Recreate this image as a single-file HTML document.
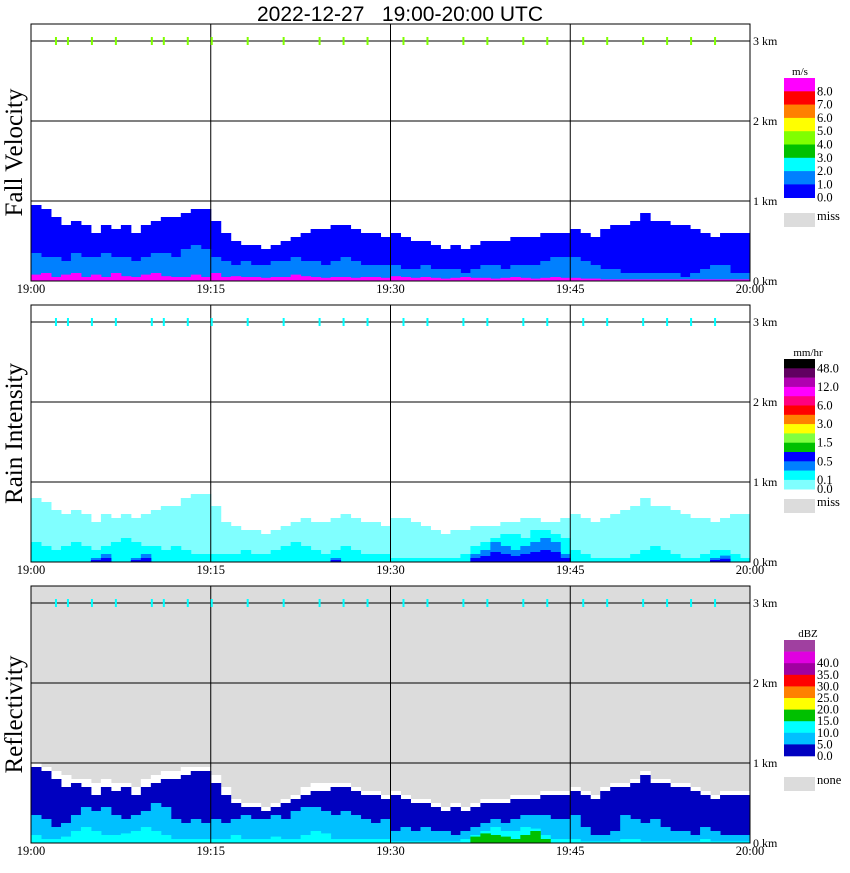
<!DOCTYPE html>
<html><head><meta charset="utf-8"><style>
body{margin:0;background:#fff;width:850px;height:868px;overflow:hidden}
svg text{font-family:"Liberation Serif",serif}
</style></head><body>
<svg id="chart" width="850" height="868" viewBox="0 0 850 868" xmlns="http://www.w3.org/2000/svg">
<text x="400" y="21" text-anchor="middle" font-size="21" style="font-family:'Liberation Sans',sans-serif;white-space:pre" xml:space="preserve">2022-12-27   19:00-20:00 UTC</text>
</svg>
<script>
const fvTop=[0.95,0.9,0.8,0.7,0.75,0.7,0.6,0.7,0.65,0.7,0.6,0.7,0.75,0.8,0.8,0.85,0.9,0.9,
0.75,0.6,0.5,0.45,0.45,0.4,0.45,0.5,0.55,0.6,0.65,0.65,0.7,0.7,0.65,0.6,0.6,0.55,
0.6,0.55,0.5,0.5,0.45,0.4,0.45,0.4,0.45,0.5,0.5,0.5,0.55,0.55,0.55,0.6,0.6,0.6,
0.65,0.6,0.55,0.65,0.7,0.7,0.75,0.85,0.75,0.75,0.7,0.7,0.65,0.6,0.55,0.6,0.6,0.6];
const fvMid=[0.35,0.3,0.3,0.25,0.35,0.3,0.3,0.35,0.3,0.3,0.25,0.3,0.35,0.35,0.3,0.4,0.45,0.4,
0.3,0.25,0.2,0.25,0.2,0.2,0.25,0.25,0.3,0.25,0.25,0.2,0.25,0.3,0.25,0.2,0.2,0.2,
0.2,0.15,0.15,0.2,0.15,0.15,0.15,0.1,0.15,0.2,0.2,0.15,0.2,0.2,0.2,0.25,0.3,0.3,
0.3,0.25,0.2,0.15,0.15,0.1,0.1,0.1,0.1,0.1,0.1,0.05,0.1,0.15,0.2,0.2,0.1,0.1];
const fvLow=[0.08,0.1,0.05,0.08,0.1,0.05,0.08,0.05,0.1,0.06,0.05,0.08,0.1,0.06,0.05,0.05,0.08,0.05,
0.1,0.05,0.06,0.05,0.05,0.04,0.05,0.05,0.08,0.06,0.05,0.04,0.05,0.05,0.04,0.05,0.05,0.04,
0.06,0.05,0.04,0.05,0.04,0.03,0.04,0.05,0.04,0.04,0.03,0.04,0.05,0.04,0.03,0.04,0.05,0.04,
0.04,0.03,0.03,0.02,0.02,0.02,0.02,0.02,0.02,0.02,0.02,0.02,0.02,0.02,0.02,0.02,0.02,0.02];
const rrTop=[0.8,0.75,0.65,0.6,0.65,0.6,0.5,0.6,0.55,0.6,0.55,0.6,0.65,0.7,0.7,0.8,0.85,0.85,
0.7,0.5,0.45,0.4,0.4,0.35,0.4,0.45,0.5,0.55,0.5,0.5,0.55,0.6,0.55,0.5,0.5,0.45,
0.55,0.55,0.5,0.45,0.4,0.35,0.4,0.4,0.45,0.45,0.45,0.5,0.5,0.55,0.55,0.5,0.5,0.55,
0.6,0.55,0.5,0.55,0.6,0.65,0.7,0.8,0.7,0.7,0.65,0.6,0.55,0.55,0.5,0.55,0.6,0.6];
const rrMid=[0.25,0.2,0.15,0.2,0.25,0.2,0.15,0.2,0.25,0.3,0.25,0.2,0.2,0.15,0.2,0.15,0.1,0.1,
0.1,0.1,0.1,0.15,0.1,0.1,0.15,0.2,0.25,0.2,0.15,0.1,0.15,0.2,0.15,0.1,0.1,0.1,
0.05,0.05,0.05,0.05,0.05,0.05,0.05,0.1,0.2,0.25,0.3,0.35,0.35,0.3,0.4,0.4,0.35,0.3,
0.15,0.1,0.05,0.05,0.05,0.05,0.1,0.15,0.2,0.15,0.1,0.05,0.05,0.1,0.15,0.15,0.1,0.05];
const rrHigh=[0,0,0,0,0,0,0.05,0.1,0,0,0.05,0.1,0,0,0,0,0,0,
0,0,0,0,0,0,0,0,0,0,0,0,0.05,0,0,0,0,0,
0,0,0,0,0,0,0,0,0.1,0.15,0.25,0.2,0.15,0.2,0.25,0.3,0.25,0.1,
0,0,0,0,0,0,0,0,0,0,0,0,0,0,0.05,0.08,0,0];
const dzTop=fvTop.map(v=>v);
const dzWhite=[1.0,0.95,0.9,0.85,0.8,0.8,0.75,0.8,0.75,0.75,0.7,0.8,0.85,0.9,0.9,0.95,0.95,0.95,
0.85,0.7,0.55,0.5,0.5,0.45,0.5,0.55,0.6,0.7,0.75,0.75,0.75,0.75,0.7,0.65,0.65,0.6,
0.65,0.6,0.55,0.55,0.5,0.45,0.5,0.45,0.5,0.55,0.55,0.55,0.6,0.6,0.6,0.65,0.65,0.65,
0.7,0.65,0.6,0.7,0.75,0.75,0.8,0.9,0.8,0.8,0.75,0.75,0.7,0.65,0.6,0.65,0.65,0.65];
const dzMid=[0.35,0.3,0.2,0.25,0.35,0.45,0.4,0.45,0.35,0.3,0.35,0.4,0.5,0.45,0.3,0.25,0.3,0.25,
0.3,0.25,0.3,0.35,0.3,0.3,0.35,0.3,0.4,0.45,0.45,0.4,0.35,0.4,0.35,0.3,0.25,0.3,
0.15,0.2,0.15,0.2,0.15,0.15,0.1,0.15,0.2,0.25,0.3,0.25,0.3,0.35,0.35,0.35,0.3,0.3,
0.35,0.2,0.1,0.1,0.15,0.35,0.3,0.25,0.3,0.2,0.15,0.15,0.1,0.2,0.15,0.1,0.1,0.1];
const dzHigh=[0.1,0.05,0.05,0.08,0.15,0.2,0.15,0.1,0.1,0.12,0.15,0.2,0.15,0.1,0.05,0.05,0.05,0.05,
0.05,0.05,0.1,0.05,0.05,0.05,0.08,0.05,0.05,0.1,0.15,0.12,0.05,0.05,0.05,0.05,0.05,0.05,
0.02,0.02,0.02,0.02,0.02,0.02,0.02,0.05,0.1,0.15,0.2,0.15,0.15,0.2,0.18,0.1,0.05,0.05,
0.05,0.02,0.02,0.02,0.02,0.05,0.05,0.02,0.02,0.02,0.02,0.02,0.02,0.05,0.02,0.02,0.02,0.02];
const dzGreen=[0,0,0,0,0,0,0,0,0,0,0,0,0,0,0,0,0,0,0,0,0,0,0,0,0,0,0,0,0,0,0,0,0,0,0,0,
0,0,0,0,0,0,0,0,0.08,0.12,0.1,0.08,0.05,0.1,0.15,0.05,0,0,0,0,0,0,0,0,0,0,0,0,0,0,0,0,0,0,0];
const tickMinutes=[2,3,5,7,10,11,13,15,18,21,24,26,28,31,33,36,38,41,43,46,48,51,53,55,57];
const timeLabels=["19:00","19:15","19:30","19:45","20:00"];
const kmLabels=["0 km","1 km","2 km","3 km"];
const fvLegend=[["#ff00ff","8.0"],["#ff0000","7.0"],["#ff8000","6.0"],["#ffff00","5.0"],["#80ff00","4.0"],["#00c000","3.0"],["#00ffff","2.0"],["#0080ff","1.0"],["#0000ff","0.0"]];
const rrLegend=[["#000000","48.0"],["#600060",""],["#b000b0","12.0"],["#ff00ff",""],["#ff0080","6.0"],["#ff0000",""],["#ff8000","3.0"],["#ffff00",""],["#80ff40","1.5"],["#00c000",""],["#0000ff","0.5"],["#0080ff",""],["#00ffff","0.1"],["#80ffff","0.0"]];
const dzLegend=[["#a040a0",""],["#e000e0","40.0"],["#a000a0","35.0"],["#ff0000","30.0"],["#ff8000","25.0"],["#ffff00","20.0"],["#00c000","15.0"],["#00ffff","10.0"],["#00c0ff","5.0"],["#0000c0","0.0"]];

const NS="http://www.w3.org/2000/svg";
const svg=document.getElementById('chart');
const X0=31,X1=750,KM=80,PH=257;
const panelTops=[24,305,586];
function xCol(i){return X0+i*(X1-X0)/72;}
function xMin(m){return X0+m*(X1-X0)/60;}
function yKm(p,k){return panelTops[p]+PH-k*KM;}
function el(tag,attrs,parent){const e=document.createElementNS(NS,tag);for(const k in attrs)e.setAttribute(k,attrs[k]);(parent||svg).appendChild(e);return e;}
function layer(p,arr,color,name){
  const g=el('g',{});
  
  
  arr.forEach((v,i)=>{if(v<=0)return;
    const r=el('rect',{x:xCol(i),y:yKm(p,v),width:(X1-X0)/72+0.5,height:v*KM,fill:color},g);
    
    });
}
const titles=["Fall Velocity","Rain Intensity","Reflectivity"];
for(let p=0;p<3;p++){
  const top=panelTops[p];
  const bg=el('rect',{x:X0,y:top,width:X1-X0,height:PH,fill:p==2?'#dcdcdc':'#fff'});
  
  
  if(p==0){layer(0,fvTop,'#0000ff','fall-velocity-slow');layer(0,fvMid,'#0080ff','fall-velocity-mid');layer(0,fvLow,'#ff00ff','fall-velocity-fast');}
  if(p==1){layer(1,rrTop,'#80ffff','rain-light');layer(1,rrMid,'#00ffff','rain-low');layer(1,rrHigh,'#0080ff','rain-moderate');layer(1,rrHigh.map(v=>v*0.5),'#0000ff','rain-heavy');}
  if(p==2){layer(2,dzWhite,'#ffffff','reflectivity-none');layer(2,dzTop,'#0000c0','reflectivity-weak');layer(2,dzMid,'#00c0ff','reflectivity-low');layer(2,dzHigh,'#00ffff','reflectivity-mid');layer(2,dzGreen,'#00c000','reflectivity-high');}
  [1,2,3].forEach(k=>{const l=el('line',{x1:X0,x2:X1,y1:yKm(p,k),y2:yKm(p,k),stroke:'#000','stroke-width':1});
    });
  [15,30,45].forEach(m=>{const l=el('line',{x1:xMin(m),x2:xMin(m),y1:top,y2:top+PH,stroke:'#000','stroke-width':1});
    });
  const fr=el('rect',{x:X0,y:top,width:X1-X0,height:PH,fill:'none',stroke:'#000','stroke-width':1});
  
  const tc=p==0?'#80ff00':'#00ffff';
  tickMinutes.forEach(m=>{const r=el('rect',{x:xMin(m),y:yKm(p,3)-4,width:2,height:8,fill:tc});
    });
  kmLabels.forEach((s,k)=>{const t=el('text',{x:753,y:yKm(p,k)+4,'font-size':12});t.textContent=s;
    });
  timeLabels.forEach((s,i)=>{const t=el('text',{x:xMin(i*15),y:top+PH+12,'font-size':12.5,'text-anchor':'middle'});t.textContent=s;
    });
  const yt=el('text',{x:0,y:0,'font-size':25,'text-anchor':'middle',transform:`translate(22,${top+PH/2}) rotate(-90)`});
  yt.textContent=titles[p];
  
}
function legend(items,y0,h,unit,missLabel,missY,unitX){
  const g=el('g',{});
  
  
  const u=el('text',{x:unitX,y:y0-3,'font-size':11,'text-anchor':'middle'},g);u.textContent=unit;
  items.forEach((it,i)=>{el('rect',{x:784,y:y0+i*h,width:31,height:h+0.3,fill:it[0]},g);
    if(it[1]){const t=el('text',{x:817,y:y0+(i+1)*h+4,'font-size':12.5},g);t.textContent=it[1];}});
  el('rect',{x:784,y:missY,width:31,height:14,fill:'#dcdcdc'},g);
  const m=el('text',{x:817,y:missY+7,'font-size':12.5},g);m.textContent=missLabel;
}
legend(fvLegend,78,13.3,'m/s','miss',213,800);
legend(rrLegend,359,9.3,'mm/hr','miss',499,808);
legend(dzLegend,640,11.6,'dBZ','none',777,808);
</script>
</body></html>
